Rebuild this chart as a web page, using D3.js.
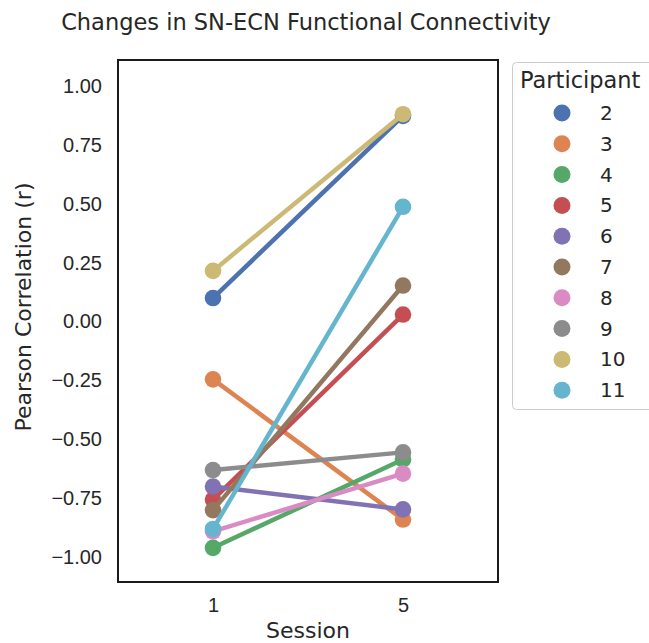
<!DOCTYPE html>
<meta charset="utf-8">
<body style="margin:0;background:#fff">
<script src="https://d3js.org/d3.v7.min.js"></script>
<script>

// data
var sessions = ["1", "5"];
var participants = ["2", "3", "4", "5", "6", "7", "8", "9", "10", "11"];
var session1 = [0.10, -0.245, -0.96, -0.755, -0.70, -0.80, -0.89, -0.63, 0.215, -0.88];
var session5 = [0.873, -0.84, -0.585, 0.03, -0.797, 0.153, -0.645, -0.555, 0.88, 0.487];
var yTicks = [1.00, 0.75, 0.50, 0.25, 0.00, -0.25, -0.50, -0.75, -1.00];
var colors = ["#4C72B0", "#DD8452", "#55A868", "#C44E52", "#8172B3",
              "#937860", "#DA8BC3", "#8C8C8C", "#CCB974", "#64B5CD"];

var margin = {top: 60, left: 118},
    width = 380,
    height = 522;

var svg = d3.select("body").append("svg")
    .attr("width", 649)
    .attr("height", 643)
    .style("font-family", "DejaVu Sans, sans-serif");

var g = svg.append("g")
    .attr("transform", "translate(" + margin.left + "," + margin.top + ")");

var x = d3.scalePoint()
    .domain(sessions)
    .range([0, width])
    .padding(0.5);

var y = d3.scaleLinear()
    .domain([-1.105, 1.11])
    .range([height, 0]);

var z = d3.scaleOrdinal()
    .domain(participants)
    .range(colors);

// y axis (labels only, no tick marks)
var yAxis = g.append("g")
    .call(d3.axisLeft(y).tickValues(yTicks).tickSize(0).tickPadding(16));
yAxis.select(".domain").remove();
yAxis.selectAll("text")
    .style("font-size", "20px")
    .attr("fill", "#262626")
    .text(function(d) { return d3.format(".2f")(d).replace("-", "\u2212"); });

var xAxis = g.append("g")
    .attr("transform", "translate(0," + height + ")")
    .call(d3.axisBottom(x).tickSize(0).tickPadding(16));
xAxis.select(".domain").remove();
xAxis.selectAll("text")
    .style("font-size", "20px")
    .attr("fill", "#262626");

// lines and points per participant
var rows = participants.map(function(p, i) {
  return {p: p, vals: [session1[i], session5[i]]};
});

var line = d3.line()
    .x(function(d, i) { return x(sessions[i]); })
    .y(function(d) { return y(d); });

var serie = g.selectAll(".serie")
    .data(rows)
  .enter().append("g")
    .attr("class", "serie");

serie.append("path")
    .attr("d", function(d) { return line(d.vals); })
    .attr("fill", "none")
    .attr("stroke", function(d) { return z(d.p); })
    .attr("stroke-width", 4.5);

serie.selectAll("circle")
    .data(function(d) { return d.vals.map(function(v, i) { return {p: d.p, v: v, s: sessions[i]}; }); })
  .enter().append("circle")
    .attr("cx", function(d) { return x(d.s); })
    .attr("cy", function(d) { return y(d.v); })
    .attr("r", 8.3)
    .attr("fill", function(d) { return z(d.p); });

// frame
g.append("rect")
    .attr("width", width)
    .attr("height", height)
    .attr("fill", "none")
    .attr("stroke", "#1a1a1a")
    .attr("stroke-width", 2);

// title and labels
svg.append("text")
    .attr("x", 306)
    .attr("y", 30)
    .attr("text-anchor", "middle")
    .style("font-size", "22.5px")
    .attr("fill", "#262626")
    .text("Changes in SN-ECN Functional Connectivity");

svg.append("text")
    .attr("x", margin.left + width / 2)
    .attr("y", 638)
    .attr("text-anchor", "middle")
    .style("font-size", "22px")
    .attr("fill", "#262626")
    .text("Session");

svg.append("text")
    .attr("transform", "translate(31,307) rotate(-90)")
    .attr("text-anchor", "middle")
    .style("font-size", "22px")
    .attr("fill", "#262626")
    .text("Pearson Correlation (r)");

// legend
var legend = svg.append("g");
legend.append("rect")
    .attr("x", 512.5)
    .attr("y", 62.5)
    .attr("width", 150)
    .attr("height", 347)
    .attr("rx", 4)
    .attr("fill", "#fff")
    .attr("stroke", "#cccccc");

legend.append("text")
    .attr("x", 520)
    .attr("y", 88)
    .style("font-size", "22.5px")
    .attr("fill", "#262626")
    .text("Participant");

var item = legend.selectAll(".item")
    .data(participants)
  .enter().append("g")
    .attr("class", "item")
    .attr("transform", function(d, i) { return "translate(0," + (113 + i * 30.8) + ")"; });

item.append("circle")
    .attr("cx", 562)
    .attr("r", 8.5)
    .attr("fill", function(d) { return z(d); });

item.append("text")
    .attr("x", 600)
    .attr("dy", "0.35em")
    .style("font-size", "20px")
    .attr("fill", "#262626")
    .text(function(d) { return d; });

</script>
</body>
